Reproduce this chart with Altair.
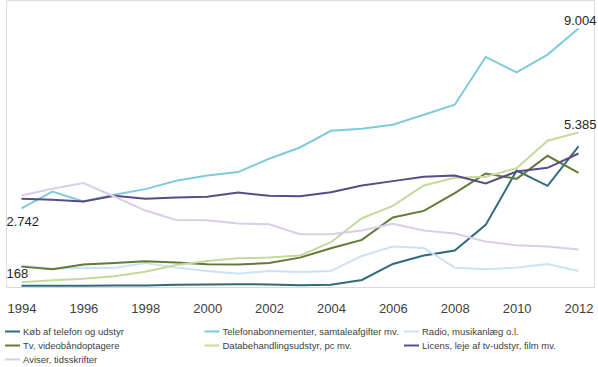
import altair as alt
import pandas as pd

years = list(range(1994, 2013))

series_names = [
    "Køb af telefon og udstyr",
    "Telefonabonnementer, samtaleafgifter mv.",
    "Radio, musikanlæg o.l.",
    "Tv, videobåndoptagere",
    "Databehandlingsudstyr, pc mv.",
    "Licens, leje af tv-udstyr, film mv.",
    "Aviser, tidsskrifter",
]
series_colors = ["#2f6b7b", "#7fcadb", "#c9e3f5", "#637a37", "#c5d99d", "#5a4a88", "#d9cde7"]

koeb = [40, 40, 45, 50, 55, 75, 85, 95, 90, 60, 80, 244, 803, 1094, 1268, 2164, 4059, 3525, 4897]
telefon = [2742, 3326, 2977, 3211, 3410, 3699, 3884, 4003, 4467, 4862, 5444, 5514, 5654, 6003, 6352, 8016, 7480, 8097, 9004]
radio = [745, 640, 675, 663, 838, 675, 559, 466, 559, 524, 559, 1082, 1408, 1361, 675, 617, 675, 803, 559]
tv = [710, 617, 780, 838, 896, 850, 791, 780, 838, 1024, 1350, 1640, 2420, 2652, 3269, 3955, 3769, 4572, 3979]
data_pc = [168, 233, 290, 373, 534, 768, 907, 1000, 1024, 1094, 1559, 2396, 2827, 3536, 3804, 3839, 4141, 5095, 5385]
licens = [3071, 3036, 2977, 3176, 3071, 3117, 3141, 3292, 3176, 3165, 3305, 3536, 3689, 3839, 3884, 3605, 4024, 4153, 4652]
aviser = [3186, 3420, 3619, 3152, 2663, 2338, 2327, 2210, 2187, 1838, 1838, 1966, 2199, 1966, 1861, 1582, 1454, 1408, 1303]

all_values = [koeb, telefon, radio, tv, data_pc, licens, aviser]

rows = []
for name, vals in zip(series_names, all_values):
    for yr, v in zip(years, vals):
        rows.append({"år": yr, "serie": name, "værdi": v})
df = pd.DataFrame(rows)


def dk(v):
    return f"{v:,}".replace(",", ".")


lab_right = pd.DataFrame({
    "år": [2012, 2012],
    "værdi": [telefon[-1], data_pc[-1]],
    "tekst": [dk(telefon[-1]), dk(data_pc[-1])],
})
lab_below = pd.DataFrame({"år": [1994], "værdi": [telefon[0]], "tekst": [dk(telefon[0])]})
lab_above = pd.DataFrame({"år": [1994], "værdi": [data_pc[0]], "tekst": [dk(data_pc[0])]})

xenc = alt.X(
    "år:Q",
    scale=alt.Scale(domain=[1993.5, 2012.5], nice=False, zero=False),
    axis=alt.Axis(
        values=list(range(1994, 2013, 2)),
        format="d",
        title=None,
        grid=False,
        ticks=False,
        tickSize=0,
        labelPadding=15,
        labelFontSize=13,
        labelColor="#404040",
        labelFont="Liberation Sans",
        domainColor="#d9d9d9",
        domainWidth=1,
    ),
)
yenc = alt.Y("værdi:Q", scale=alt.Scale(domain=[0, 10000], nice=False), axis=None)

lines = alt.Chart(df).mark_line(strokeWidth=2).encode(
    x=xenc,
    y=yenc,
    color=alt.Color(
        "serie:N",
        scale=alt.Scale(domain=series_names, range=series_colors),
        sort=series_names,
        legend=alt.Legend(
            title=None,
            orient="none",
            direction="horizontal",
            legendX=-2,
            legendY=323,
            columns=3,
            gridAlign="all",
            columnPadding=0.5,
            rowPadding=1,
            padding=0,
            symbolType="stroke",
            symbolSize=225,
            symbolStrokeWidth=2,
            labelOffset=2,
            labelFontSize=9.5,
            labelFont="Liberation Sans",
            labelColor="#404040",
            labelLimit=300,
        ),
    ),
)

txt_style = dict(fontSize=13, font="Liberation Sans", color="#262626", baseline="alphabetic")

t_right = alt.Chart(lab_right).mark_text(align="right", dx=18, dy=-3.5, **txt_style).encode(
    x="år:Q", y="værdi:Q", text="tekst:N"
)
t_below = alt.Chart(lab_below).mark_text(align="left", dx=-15, dy=18, **txt_style).encode(
    x="år:Q", y="værdi:Q", text="tekst:N"
)
t_above = alt.Chart(lab_above).mark_text(align="left", dx=-15, dy=-4.5, **txt_style).encode(
    x="år:Q", y="værdi:Q", text="tekst:N"
)

chart = (
    alt.layer(lines, t_right, t_below, t_above)
    .properties(
        width=588,
        height=287,
        padding={"left": 6, "top": 0, "right": 4, "bottom": 80},
        autosize=alt.AutoSizeParams(type="none"),
    )
    .configure_view(stroke=None)
    .configure(background="white")
)

chart.save("out.html", embed_options={"renderer": "svg", "actions": False})
